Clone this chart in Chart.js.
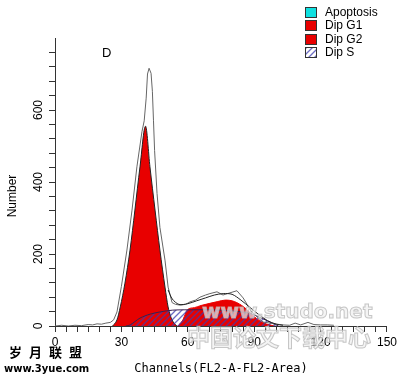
<!DOCTYPE html>
<html>
<head>
<meta charset="utf-8">
<script src="https://cdn.jsdelivr.net/npm/chart.js@4.4.1/dist/chart.umd.min.js"></script>
<style>
  html, body { margin: 0; padding: 0; background: #fff; }
  #wrap { position: relative; width: 400px; height: 380px; }
</style>
</head>
<body>
<div id="wrap"><canvas id="myChart" width="400" height="380"></canvas></div>
<script>
// raw histogram (grey jagged outline)
const rawCh = [0, 3, 6, 9, 12, 15, 17, 19, 21, 23, 25, 26.5, 28, 30, 32.5, 34.8, 37, 39.3, 40.3, 41.2,
    41.8, 42.5, 43.4, 44, 44.5, 45, 46.1, 47.4, 49.7, 51.1, 52.9, 54.5, 56.5, 59, 61, 63.5, 65.5, 68, 70, 73.2,
    75.9, 79, 82.2, 85, 86.8, 88.1, 91.3, 94, 97.2, 100.3, 103, 106, 108.5, 111, 114.3, 117, 120, 123, 126];
const rawCount = [0, 2, 0, 2, 1, 4, 3, 6, 5, 8, 10, 17, 39, 110, 211, 322, 442, 540, 570, 633,
    700, 716, 702, 652, 570, 487, 368, 274, 183, 108, 65, 60, 58, 60, 67, 72, 80, 86, 90, 95,
    86, 92, 98, 78, 60, 45, 25, 11, 8, 5, 3, 2, 8, 3, 10, 4, 3, 3, 2];

// model components
const g1Ch = [26, 28, 29.5, 31.6, 33.9, 36.1, 38.4, 40.9, 42.9, 45.2, 47.4, 49.7, 51.1, 52.9, 55];
const g1Count = [0, 17, 53, 119, 211, 322, 442, 555, 442, 322, 211, 108, 53, 17, 0];

const g2Ch = [55.5, 57.5, 60, 63, 66, 70, 73.6, 77, 81, 85.5, 90, 94.5, 99];
const g2Count = [0, 14, 46, 51, 57, 63, 68, 72, 68, 52, 26, 8, 0];

const sCh = [32, 34, 38.4, 43, 47.4, 53, 60, 70, 80, 88, 94, 98, 101];
const sCount = [0, 3, 22, 33, 39, 44, 45, 45, 42, 35, 20, 8, 0];

// fitted sum over the G2 bump
const fitCh = [51.1, 53, 56, 60, 64, 68, 72, 76, 80, 84, 88, 92, 96, 100, 103];
const fitCount = [100, 75, 60, 62, 70, 78, 86, 90, 88, 72, 52, 32, 15, 5, 2];

const legendLabels = ['Apoptosis', 'Dip G1', 'Dip G2', 'Dip S'];
const xLabelEvery = 30;
const yLabelEvery = 200;

const RED = '#e80000';

function pts(xs, ys) {
    return xs.map((x, i) => ({x: x, y: ys[i]}));
}

function hatch() {
    const c = document.createElement('canvas');
    c.width = 6; c.height = 6;
    const g = c.getContext('2d');
    g.strokeStyle = 'rgba(60,60,175,0.75)';
    g.lineWidth = 1.3;
    g.beginPath();
    g.moveTo(-1, 7); g.lineTo(7, -1);
    g.moveTo(-4, 4); g.lineTo(4, -4);
    g.moveTo(2, 10); g.lineTo(10, 2);
    g.stroke();
    return g.createPattern(c, 'repeat');
}
const hatchFill = hatch();
const legendColors = ['#10e0e0', RED, RED, hatchFill];

// legend + labels drawn on the canvas
const extras = {
    id: 'extras',
    afterDraw(chart) {
        const ctx = chart.ctx;
        ctx.save();
        // watermarks
        ctx.textBaseline = 'alphabetic';
        ctx.textAlign = 'left';
        ctx.fillStyle = 'rgba(240,240,240,0.7)';
        ctx.strokeStyle = 'rgba(185,185,185,0.8)';
        ctx.lineWidth = 1;
        ctx.font = 'bold 20px "DejaVu Sans"';
        ctx.fillText('www.studo.net', 202, 318);
        ctx.strokeText('www.studo.net', 202, 318);
        ctx.font = 'bold 23px "Noto Sans CJK SC"';
        ctx.fillText('中国论文下载中心', 187, 346);
        ctx.strokeText('中国论文下载中心', 187, 346);

        // panel letter
        ctx.fillStyle = '#000';
        ctx.font = '13px "Liberation Sans"';
        ctx.textBaseline = 'middle';
        ctx.fillText('D', 102, 53);

        // y title
        ctx.save();
        ctx.translate(13, 196);
        ctx.rotate(-Math.PI / 2);
        ctx.textAlign = 'center';
        ctx.font = '12px "Liberation Sans"';
        ctx.fillText('Number', 0, 0);
        ctx.restore();

        // site stamp, bottom left
        ctx.font = 'bold 13px "Noto Sans CJK SC"';
        ['岁', '月', '联', '盟'].forEach((ch, i) => ctx.fillText(ch, 9 + i * 20, 352));
        ctx.font = 'bold 10px "DejaVu Sans"';
        ctx.fillText('www.3yue.com', 4, 369);

        // legend
        ctx.font = '12px "Liberation Sans"';
        const rows = [13, 26, 40, 53];
        legendLabels.forEach((lab, i) => {
            const y = rows[i];
            ctx.fillStyle = '#fff';
            ctx.fillRect(305, y - 6, 12, 11);
            ctx.fillStyle = legendColors[i];
            ctx.fillRect(305, y - 6, 12, 11);
            ctx.strokeStyle = '#333';
            ctx.lineWidth = 1;
            ctx.strokeRect(305.5, y - 5.5, 11, 10);
            ctx.fillStyle = '#000';
            ctx.fillText(lab, 325, y);
        });
        ctx.restore();
    }
};

const ctx = document.getElementById('myChart').getContext('2d');

const myChart = new Chart(ctx, {
    type: 'line',
    data: {
        datasets: [{
            label: 'fit',
            data: pts(fitCh, fitCount),
            borderColor: '#222',
            borderWidth: 1,
            pointRadius: 0,
            fill: false,
            tension: 0.3
        }, {
            label: 'raw',
            data: pts(rawCh, rawCount),
            borderColor: '#666',
            borderWidth: 1,
            pointRadius: 0,
            fill: false,
            tension: 0
        }, {
            label: 'Dip S',
            data: pts(sCh, sCount),
            borderColor: '#3a2050',
            borderWidth: 1,
            backgroundColor: hatchFill,
            pointRadius: 0,
            fill: 'origin',
            tension: 0.3
        }, {
            label: 'Dip G2',
            data: pts(g2Ch, g2Count),
            borderColor: RED,
            borderWidth: 1,
            backgroundColor: RED,
            pointRadius: 0,
            fill: 'origin',
            cubicInterpolationMode: 'monotone'
        }, {
            label: 'Dip G1',
            data: pts(g1Ch, g1Count),
            borderColor: '#222',
            borderWidth: 1,
            backgroundColor: RED,
            pointRadius: 0,
            fill: 'origin',
            cubicInterpolationMode: 'monotone'
        }, {
            label: 'Apoptosis',
            data: [],
            backgroundColor: '#10e0e0'
        }]
    },
    options: {
        responsive: false,
        animation: false,
        layout: { padding: { top: 38, right: 13, left: 0, bottom: 0 } },
        plugins: { legend: { display: false }, tooltip: { enabled: false } },
        scales: {
            x: {
                type: 'linear',
                min: 0,
                max: 150,
                afterFit(s) { s.height = 54; },
                border: { display: true, color: '#333', width: 1 },
                grid: { drawOnChartArea: false, tickLength: 6, color: '#333' },
                ticks: {
                    stepSize: 5,
                    autoSkip: false,
                    maxRotation: 0,
                    padding: 3,
                    color: '#000',
                    font: { family: '"Liberation Sans"', size: 12 },
                    callback: v => (v % xLabelEvery === 0 ? String(v) : '')
                },
                title: {
                    display: true,
                    text: 'Channels(FL2-A-FL2-Area)',
                    color: '#000',
                    font: { family: '"DejaVu Sans Mono"', size: 12 },
                    padding: { top: 0, bottom: 4 }
                }
            },
            y: {
                min: 0,
                max: 800,
                afterFit(s) { s.width = 55; },
                afterBuildTicks(s) { s.ticks = s.ticks.filter(t => t.value < 800); },
                border: { display: true, color: '#333', width: 1 },
                grid: { drawOnChartArea: false, tickLength: 6, color: '#333' },
                ticks: {
                    stepSize: 40,
                    autoSkip: false,
                    minRotation: 90,
                    maxRotation: 90,
                    crossAlign: 'center',
                    padding: 0,
                    color: '#000',
                    font: { family: '"Liberation Sans"', size: 12 },
                    callback: v => (v % yLabelEvery === 0 ? String(v) : '')
                }
            }
        }
    },
    plugins: [extras]
});
</script>
</body>
</html>
